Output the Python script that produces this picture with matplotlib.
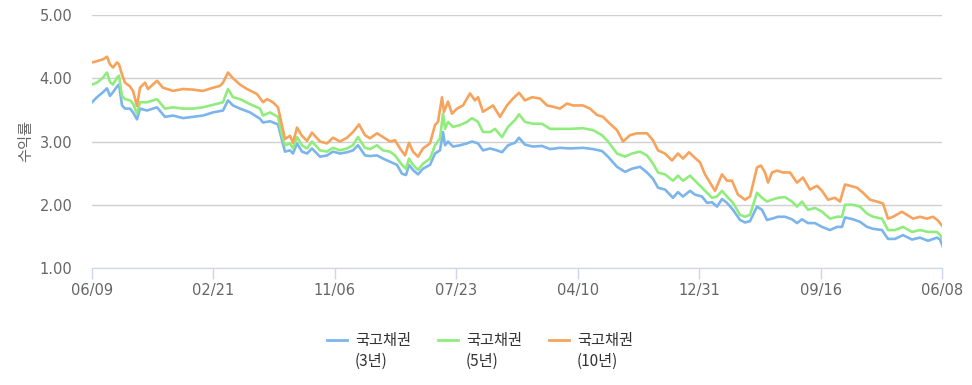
import matplotlib
matplotlib.use("Agg")
import matplotlib.pyplot as plt
import numpy as np

plt.rcParams['font.family'] = ['Noto Sans CJK KR', 'DejaVu Sans']

## data: day index along the period, yield (%)
tick_labels = ["06/09", "02/21", "11/06", "07/23", "04/10", "12/31", "09/16", "06/08"]
series_names = ["국고채권", "국고채권", "국고채권"]
series_terms = ["(3년)", "(5년)", "(10년)"]
span = 850

days_3y = [0, 5, 11, 15, 18, 21, 25, 27, 30, 33, 38, 41, 45, 48, 55, 65, 73, 81, 91, 101,
           111, 121, 131, 136, 141, 148, 158, 168, 171, 178, 186, 190, 193, 198, 201, 205,
           210, 215, 220, 228, 235, 241, 248, 255, 261, 266, 273, 278, 285, 291, 298, 305,
           310, 314, 317, 321, 326, 331, 338, 343, 348, 351, 353, 356, 361, 368, 375, 380,
           386, 391, 398, 405, 410, 416, 423, 427, 433, 441, 450, 458, 468, 478, 491, 501,
           510, 516, 525, 533, 540, 548, 555, 561, 566, 573, 581, 586, 591, 598, 603, 610,
           615, 620, 625, 630, 635, 641, 648, 653, 658, 665, 670, 675, 680, 686, 693, 700,
           705, 710, 716, 723, 730, 738, 745, 750, 753, 761, 768, 775, 781, 790, 796, 803,
           811, 820, 828, 836, 845, 848, 851]
yield_3y = [3.62, 3.70, 3.78, 3.84, 3.72, 3.78, 3.87, 3.90, 3.57, 3.52, 3.52, 3.46, 3.35, 3.52,
            3.49, 3.54, 3.39, 3.41, 3.37, 3.39, 3.41, 3.46, 3.49, 3.65, 3.57, 3.52, 3.46, 3.36,
            3.30, 3.32, 3.27, 3.02, 2.84, 2.86, 2.81, 2.97, 2.84, 2.81, 2.89, 2.76, 2.78, 2.84,
            2.81, 2.83, 2.86, 2.94, 2.78, 2.77, 2.78, 2.73, 2.68, 2.63, 2.49, 2.47, 2.63, 2.55,
            2.48, 2.57, 2.63, 2.81, 2.86, 3.15, 2.94, 3.00, 2.92, 2.94, 2.97, 3.00, 2.97, 2.86,
            2.89, 2.86, 2.83, 2.94, 2.98, 3.06, 2.95, 2.92, 2.93, 2.88, 2.90, 2.89, 2.90, 2.88,
            2.85, 2.76, 2.60, 2.52, 2.57, 2.60, 2.51, 2.41, 2.27, 2.24, 2.11, 2.20, 2.13, 2.22,
            2.16, 2.13, 2.03, 2.04, 1.97, 2.09, 2.03, 1.92, 1.76, 1.72, 1.74, 1.97, 1.92, 1.76,
            1.78, 1.81, 1.81, 1.77, 1.71, 1.77, 1.71, 1.71, 1.65, 1.60, 1.65, 1.65, 1.80, 1.77,
            1.73, 1.65, 1.62, 1.60, 1.46, 1.46, 1.52, 1.45, 1.48, 1.43, 1.48, 1.45, 1.33]

days_5y = [0, 5, 11, 15, 18, 21, 25, 27, 30, 33, 38, 41, 45, 48, 55, 65, 73, 81, 91, 101,
           111, 121, 131, 136, 141, 148, 158, 168, 171, 178, 186, 190, 193, 198, 201, 205,
           210, 215, 220, 228, 235, 241, 248, 255, 261, 266, 273, 278, 285, 291, 298, 303,
           310, 314, 317, 321, 326, 331, 338, 343, 348, 351, 353, 356, 361, 368, 375, 380,
           386, 391, 398, 403, 410, 416, 423, 427, 433, 441, 450, 458, 468, 478, 491, 501,
           510, 516, 525, 533, 540, 548, 555, 561, 566, 573, 581, 586, 591, 598, 603, 610,
           615, 620, 625, 630, 635, 641, 648, 653, 658, 665, 670, 675, 680, 686, 693, 700,
           705, 710, 716, 723, 730, 738, 745, 750, 753, 761, 768, 775, 781, 790, 796, 803,
           811, 820, 828, 836, 845, 848, 851]
yield_5y = [3.90, 3.93, 4.01, 4.09, 3.94, 3.90, 4.01, 4.04, 3.72, 3.67, 3.65, 3.60, 3.44, 3.62,
            3.62, 3.67, 3.52, 3.54, 3.52, 3.52, 3.54, 3.58, 3.62, 3.83, 3.70, 3.67, 3.59, 3.52,
            3.41, 3.46, 3.39, 3.10, 2.94, 2.97, 2.89, 3.07, 2.94, 2.89, 3.00, 2.86, 2.84, 2.90,
            2.86, 2.89, 2.94, 3.07, 2.90, 2.88, 2.94, 2.86, 2.84, 2.78, 2.63, 2.57, 2.73, 2.63,
            2.55, 2.65, 2.73, 2.94, 3.05, 3.44, 3.20, 3.31, 3.23, 3.26, 3.31, 3.37, 3.31, 3.15,
            3.15, 3.20, 3.07, 3.23, 3.34, 3.43, 3.31, 3.28, 3.28, 3.20, 3.20, 3.20, 3.21, 3.18,
            3.10, 3.00, 2.81, 2.76, 2.81, 2.84, 2.78, 2.65, 2.51, 2.48, 2.38, 2.46, 2.38, 2.46,
            2.38, 2.27, 2.19, 2.11, 2.13, 2.22, 2.13, 2.03, 1.84, 1.81, 1.84, 2.19, 2.11, 2.05,
            2.08, 2.11, 2.12, 2.05, 1.97, 2.05, 1.92, 1.95, 1.89, 1.78, 1.81, 1.81, 2.00, 2.00,
            1.97, 1.86, 1.81, 1.78, 1.60, 1.60, 1.65, 1.57, 1.60, 1.57, 1.57, 1.52, 1.45]

days_10y = [0, 5, 11, 15, 18, 21, 25, 27, 30, 33, 38, 41, 45, 48, 53, 56, 65, 71, 81, 91,
            101, 111, 121, 128, 131, 136, 141, 148, 155, 165, 171, 175, 181, 186, 190, 193,
            198, 201, 205, 210, 215, 220, 228, 235, 241, 248, 255, 261, 267, 273, 278, 285,
            291, 298, 303, 308, 313, 317, 321, 326, 331, 338, 343, 346, 350, 352, 356, 360,
            365, 371, 378, 383, 386, 391, 396, 401, 408, 415, 421, 427, 433, 440, 448, 455,
            461, 468, 475, 481, 491, 498, 505, 511, 518, 525, 531, 538, 545, 555, 561, 566,
            573, 580, 586, 591, 597, 603, 608, 613, 618, 623, 630, 635, 640, 646, 653, 658,
            665, 669, 673, 676, 680, 685, 691, 698, 705, 711, 718, 725, 730, 736, 743, 748,
            753, 758, 765, 771, 778, 785, 791, 796, 801, 810, 815, 821, 828, 835, 841, 846, 851]
yield_10y = [4.25, 4.27, 4.30, 4.34, 4.22, 4.17, 4.25, 4.22, 4.06, 3.93, 3.87, 3.80, 3.56, 3.85,
             3.93, 3.83, 3.96, 3.85, 3.80, 3.83, 3.82, 3.80, 3.85, 3.88, 3.93, 4.09, 4.00, 3.90,
             3.83, 3.75, 3.62, 3.67, 3.62, 3.54, 3.25, 3.04, 3.09, 2.98, 3.22, 3.09, 3.01, 3.14,
             3.00, 2.97, 3.06, 3.00, 3.06, 3.15, 3.27, 3.10, 3.05, 3.13, 3.07, 3.00, 3.02, 2.89,
             2.78, 2.98, 2.84, 2.76, 2.89, 2.97, 3.26, 3.31, 3.70, 3.47, 3.63, 3.44, 3.52, 3.57,
             3.76, 3.65, 3.70, 3.47, 3.52, 3.57, 3.39, 3.57, 3.68, 3.77, 3.65, 3.70, 3.68, 3.57,
             3.55, 3.52, 3.60, 3.57, 3.57, 3.52, 3.42, 3.39, 3.28, 3.18, 3.00, 3.10, 3.13, 3.13,
             3.02, 2.86, 2.81, 2.70, 2.81, 2.73, 2.83, 2.74, 2.67, 2.48, 2.35, 2.22, 2.48, 2.38,
             2.38, 2.16, 2.08, 2.13, 2.59, 2.62, 2.51, 2.35, 2.51, 2.54, 2.51, 2.51, 2.35, 2.43,
             2.24, 2.30, 2.22, 2.08, 2.11, 2.05, 2.32, 2.30, 2.27, 2.19, 2.08, 2.05, 2.02, 1.78,
             1.81, 1.89, 1.84, 1.78, 1.81, 1.78, 1.81, 1.75, 1.65]

colors = ["#7cb5ec", "#90ed7d", "#f7a35c"]
GRID = "#d0d0d0"
AXIS = "#ccd6eb"
LABEL = "#666666"
TICK_FONT = ["DejaVu Sans"]

fig = plt.figure(figsize=(9.72, 3.85), dpi=100)
ax = fig.add_axes([92 / 972, 1 - 268 / 385, 850 / 972, 253 / 385])

lines = []
for days, vals, c in zip([days_3y, days_5y, days_10y], [yield_3y, yield_5y, yield_10y], colors):
    ln, = ax.plot(days, vals, color=c, lw=1.9, solid_joinstyle="round", zorder=3)
    lines.append(ln)

ax.set_xlim(0, span)
ax.set_ylim(1, 5)
ax.set_yticks([1, 2, 3, 4, 5])
ax.set_yticklabels([f"{v:.2f}" for v in [1, 2, 3, 4, 5]], family=TICK_FONT)
ax.set_xticks(np.linspace(0, span, len(tick_labels)))
ax.set_xticklabels(tick_labels, family=TICK_FONT)

ax.grid(axis="y", color=GRID, lw=1, zorder=0)
for s in ["top", "right", "left"]:
    ax.spines[s].set_visible(False)
ax.spines["bottom"].set_color(AXIS)
ax.spines["bottom"].set_zorder(4)
ax.tick_params(axis="y", length=0, pad=14, labelsize=10.5, labelcolor=LABEL)
ax.tick_params(axis="x", length=8, width=1, color=AXIS, pad=3, labelsize=10.5, labelcolor=LABEL)
ax.set_ylabel("수익률", color=LABEL, fontsize=11, labelpad=4)

leg = fig.legend(lines, series_names, loc="upper center", bbox_to_anchor=(0.494, 1 - 332 / 385),
                 ncol=3, frameon=False, fontsize=11, handlelength=1.3, handletextpad=0.5,
                 columnspacing=1.8, labelcolor="#333333", borderaxespad=0, borderpad=0)
for h in leg.legend_handles:
    h.set_linewidth(2)

# second line of each legend label, under the first
fig.canvas.draw()
r = fig.canvas.get_renderer()
for t, term in zip(leg.get_texts(), series_terms):
    bb = t.get_window_extent(r)
    fig.text(bb.x0 / fig.bbox.width, (bb.y0 - 4) / fig.bbox.height, term,
             ha="left", va="top", fontsize=11, color="#333333")

fig.savefig("out.png", dpi=100)
